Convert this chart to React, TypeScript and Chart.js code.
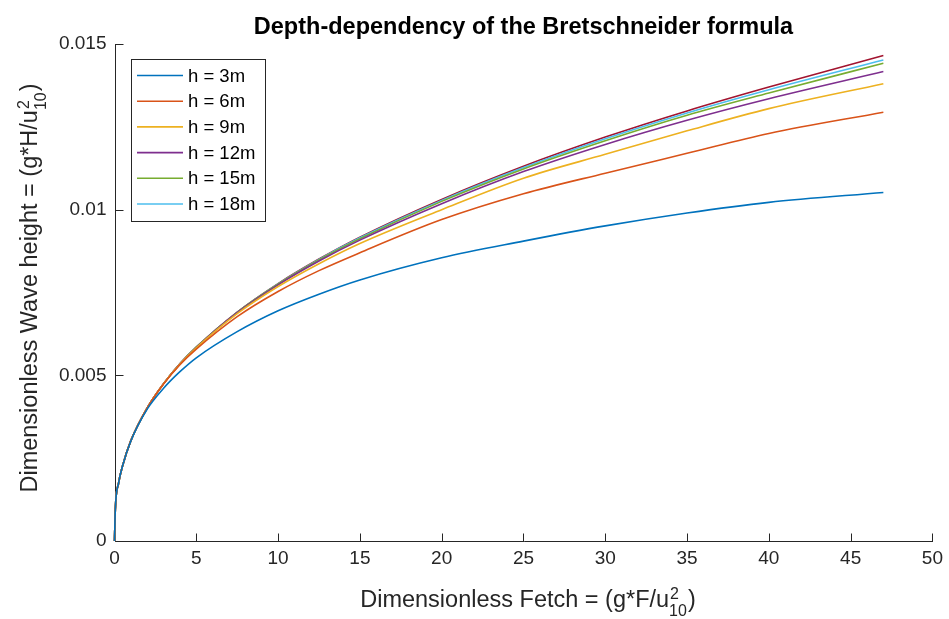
import React, { useEffect, useRef } from "react";
import { Chart, registerables } from "chart.js";

Chart.register(...registerables);

// Dimensionless fetch gF/u10^2
const fetchValues = [0, 0.05, 0.25, 0.5, 1, 2, 3, 4, 5, 7.5, 10, 12.5, 15, 20, 25, 30, 35, 40, 47];

// Dimensionless wave height gH/u10^2 for each water depth
const h3m = [0, 0.00095, 0.00175, 0.00228, 0.00302, 0.00398, 0.00461, 0.00511, 0.00553, 0.00632, 0.00695, 0.00745, 0.00788, 0.00855, 0.00905, 0.00951, 0.0099, 0.01022, 0.01052];
const h6m = [0, 0.00095, 0.00175, 0.00228, 0.00303, 0.00402, 0.00474, 0.00532, 0.00579, 0.00677, 0.00753, 0.00816, 0.0087, 0.0097, 0.01048, 0.0111, 0.0117, 0.0123, 0.01294];
const h9m = [0, 0.00095, 0.00175, 0.00228, 0.00303, 0.00402, 0.00475, 0.00534, 0.00583, 0.00686, 0.00768, 0.00837, 0.00898, 0.01, 0.01095, 0.01167, 0.01238, 0.01305, 0.0138];
const h12m = [0, 0.00095, 0.00175, 0.00228, 0.00303, 0.00402, 0.00475, 0.00535, 0.00584, 0.00689, 0.00773, 0.00845, 0.00908, 0.01018, 0.01115, 0.01197, 0.0127, 0.01335, 0.01417];
const h15m = [0, 0.00095, 0.00175, 0.00228, 0.00303, 0.00402, 0.00475, 0.00535, 0.00585, 0.0069, 0.00775, 0.00848, 0.00912, 0.01025, 0.01123, 0.01208, 0.01285, 0.01352, 0.01442];
const h18m = [0, 0.00095, 0.00175, 0.00228, 0.00303, 0.00402, 0.00475, 0.00535, 0.00585, 0.0069, 0.00776, 0.0085, 0.00915, 0.01028, 0.01127, 0.01214, 0.01292, 0.01362, 0.01452];
// deep-water curve (drawn, not listed in the legend)
const hDeep = [0, 0.00095, 0.00175, 0.00228, 0.00303, 0.00402, 0.00475, 0.00535, 0.00585, 0.00691, 0.00777, 0.00851, 0.00917, 0.01031, 0.01131, 0.01219, 0.01298, 0.0137, 0.01465];

const seriesLabels = ["h = 3m", "h = 6m", "h = 9m", "h = 12m", "h = 15m", "h = 18m", ""];
const seriesValues = [h3m, h6m, h9m, h12m, h15m, h18m, hDeep];
const seriesColors = ["#0072BD", "#D95319", "#EDB120", "#7E2F8E", "#77AC30", "#4DBEEE", "#A2142F"];

const xTicks = [0, 5, 10, 15, 20, 25, 30, 35, 40, 45, 50];
const yTicks = [0, 0.005, 0.01, 0.015];

const titleText = "Depth-dependency of the Bretschneider formula";
const xTitleBase = "Dimensionless Fetch = (g*F/u";
const yTitleBase = "Dimensionless Wave height = (g*H/u";
const supText = "2";
const subText = "10";
const closeText = ")";

const FONT = '"Liberation Sans", Arial, Helvetica, sans-serif';
const AXIS_COLOR = "#262626";

// Draws "base u^2_10 )" centred on (cx, baseline)
function drawScriptLabel(ctx: CanvasRenderingContext2D, base: string, cx: number, baseline: number, size: number) {
  const small = Math.round(size * 0.68);
  ctx.font = `${size}px ${FONT}`;
  const wBase = ctx.measureText(base).width;
  const wClose = ctx.measureText(closeText).width;
  ctx.font = `${small}px ${FONT}`;
  const wSup = ctx.measureText(supText).width;
  const wSub = ctx.measureText(subText).width;
  const wScript = Math.max(wSup, wSub);
  const total = wBase + wScript + wClose;
  let x = cx - total / 2;
  ctx.textAlign = "left";
  ctx.textBaseline = "alphabetic";
  ctx.font = `${size}px ${FONT}`;
  ctx.fillText(base, x, baseline);
  x += wBase;
  ctx.font = `${small}px ${FONT}`;
  ctx.fillText(supText, x + 1, baseline - size * 0.36);
  ctx.fillText(subText, x, baseline + size * 0.38);
  x += wScript + 1;
  ctx.font = `${size}px ${FONT}`;
  ctx.fillText(closeText, x, baseline);
}

const decorations = {
  id: "decorations",
  beforeDatasetsDraw(chart: any) {
    const { ctx, chartArea, scales } = chart;
    const xs = scales.x;
    const ys = scales.y;
    ctx.save();
    ctx.strokeStyle = AXIS_COLOR;
    ctx.lineWidth = 1;
    const left = Math.round(chartArea.left) + 0.5;
    const bottom = Math.round(chartArea.bottom) + 0.5;
    ctx.beginPath();
    ctx.moveTo(left, Math.round(chartArea.top));
    ctx.lineTo(left, bottom);
    ctx.lineTo(Math.round(chartArea.right) + 1, bottom);
    // inward tick marks
    xTicks.forEach((v) => {
      const px = Math.round(xs.getPixelForValue(v)) + 0.5;
      ctx.moveTo(px, bottom);
      ctx.lineTo(px, bottom - 8);
    });
    yTicks.forEach((v) => {
      const py = Math.round(ys.getPixelForValue(v)) + 0.5;
      ctx.moveTo(left, py);
      ctx.lineTo(left + 8, py);
    });
    ctx.stroke();
    ctx.restore();
  },
  afterDraw(chart: any) {
    const { ctx, chartArea } = chart;
    ctx.save();
    const cx = (chartArea.left + chartArea.right) / 2;
    const cy = (chartArea.top + chartArea.bottom) / 2;

    // title
    ctx.fillStyle = "#000000";
    ctx.font = `bold 23.5px ${FONT}`;
    ctx.textAlign = "center";
    ctx.textBaseline = "alphabetic";
    ctx.fillText(titleText, cx, 34);

    // axis titles
    ctx.fillStyle = AXIS_COLOR;
    drawScriptLabel(ctx, xTitleBase, cx + 4, 607, 23.5);
    ctx.save();
    ctx.translate(37, cy - 4);
    ctx.rotate(-Math.PI / 2);
    drawScriptLabel(ctx, yTitleBase, 0, 0, 23.5);
    ctx.restore();

    // legend
    const boxX = 131.5;
    const boxY = 59.5;
    const boxW = 134;
    const boxH = 162;
    ctx.fillStyle = "#ffffff";
    ctx.fillRect(boxX, boxY, boxW, boxH);
    ctx.strokeStyle = AXIS_COLOR;
    ctx.lineWidth = 1;
    ctx.strokeRect(boxX, boxY, boxW, boxH);
    ctx.font = `18.5px ${FONT}`;
    ctx.textAlign = "left";
    ctx.textBaseline = "middle";
    seriesLabels.forEach((label, i) => {
      if (!label) return;
      const rowY = 75.5 + i * 25.7;
      ctx.strokeStyle = seriesColors[i];
      ctx.lineWidth = 1.6;
      ctx.beginPath();
      ctx.moveTo(137, rowY);
      ctx.lineTo(183, rowY);
      ctx.stroke();
      ctx.fillStyle = "#000000";
      ctx.fillText(label, 188, rowY + 1);
    });
    ctx.restore();
  },
};

export default function App() {
  const canvasRef = useRef<HTMLCanvasElement | null>(null);

  useEffect(() => {
    const canvas = canvasRef.current;
    if (!canvas) return;
    const chart = new Chart(canvas, {
      type: "line",
      data: {
        datasets: seriesValues.map((vals, i) => ({
          label: seriesLabels[i],
          data: vals.map((y, j) => ({ x: fetchValues[j], y })),
          borderColor: seriesColors[i],
          backgroundColor: seriesColors[i],
          borderWidth: 1.6,
          pointRadius: 0,
          cubicInterpolationMode: "monotone" as const,
          fill: false,
          clip: 6,
        })),
      },
      options: {
        responsive: false,
        animation: false,
        events: [],
        layout: { padding: { top: 44, right: 13, left: 0, bottom: 0 } },
        plugins: {
          legend: { display: false },
          title: { display: false },
          tooltip: { enabled: false },
        },
        scales: {
          x: {
            type: "linear",
            min: 0,
            max: 50,
            afterFit: (scale: any) => {
              scale.height = 78;
            },
            afterBuildTicks: (scale: any) => {
              scale.ticks = xTicks.map((v) => ({ value: v }));
            },
            grid: { display: false, drawTicks: false },
            border: { display: false },
            ticks: {
              autoSkip: false,
              maxRotation: 0,
              padding: 6,
              color: AXIS_COLOR,
              font: { family: FONT, size: 19 },
              callback: (v: any) => String(v),
            },
          },
          y: {
            type: "linear",
            min: 0,
            max: 0.015,
            afterFit: (scale: any) => {
              scale.width = 114.5;
            },
            afterBuildTicks: (scale: any) => {
              scale.ticks = yTicks.map((v) => ({ value: v }));
            },
            grid: { display: false, drawTicks: false },
            border: { display: false },
            ticks: {
              autoSkip: false,
              padding: 8,
              color: AXIS_COLOR,
              font: { family: FONT, size: 19 },
              callback: (v: any) => String(Number(v.toFixed(4))),
            },
          },
        },
      },
      plugins: [decorations],
    });
    return () => chart.destroy();
  }, []);

  return (
    <div style={{ position: "fixed", left: 0, top: 0, width: 949, height: 619, background: "#ffffff" }}>
      <canvas ref={canvasRef} width={949} height={619} style={{ display: "block" }} />
    </div>
  );
}
